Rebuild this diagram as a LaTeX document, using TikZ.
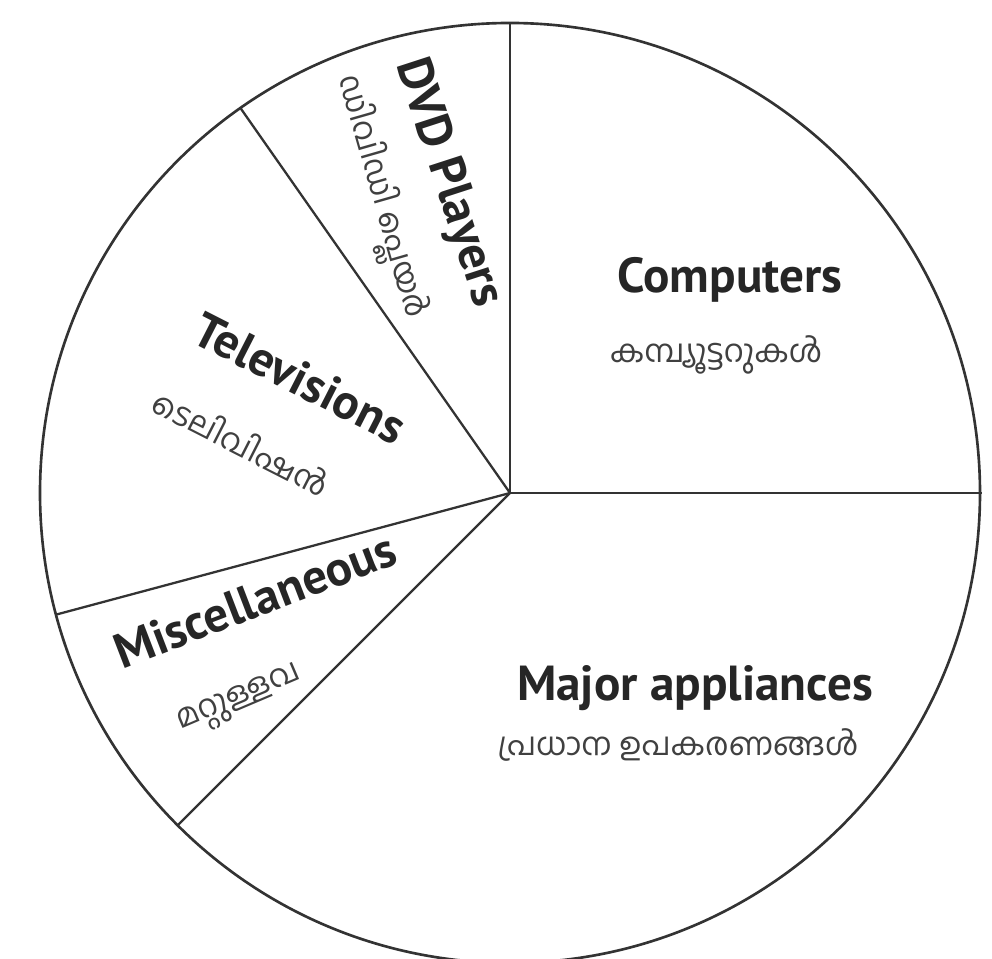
\documentclass[tikz,border=0pt]{standalone}
\usepackage{fontspec}
\setmainfont{PT Sans}
\newfontfamily\mlfont[Script=Malayalam]{Hind Kochi}
\usepackage{tikz}
\usetikzlibrary{positioning,calc}
\tikzset{
  rim/.style={draw,line width=1.5pt,black!80},
  cut/.style={draw,line width=1.3pt,black!80},
  eng/.style={font=\fontsize{28}{30}\selectfont\bfseries,text=black!85,inner sep=1pt},
  mal/.style={font=\mlfont\fontsize{18}{20}\selectfont,text=black!75,inner sep=1pt},
}
\begin{document}
\begin{tikzpicture}[x=0.02cm,y=0.02cm]
\useasboundingbox (0,0) rectangle (992,959);
\clip (0,0) rectangle (992,959);
\coordinate (c) at (510,466);
% rim points of the slices
\coordinate (r0) at ($(c)+(0:472)$);
\coordinate (r90) at ($(c)+(90:470)$);
\coordinate (r125) at ($(c)+(125:470)$);
\coordinate (r195) at ($(c)+(195:470)$);
\coordinate (r225) at ($(c)+(225:470)$);
\draw[rim] (c) circle (470);
\draw[cut] (c) -- (r0);
\draw[cut] (c) -- (r90);
\draw[cut] (c) -- (r125);
\draw[cut] (c) -- (r195);
\draw[cut] (c) -- (r225);

\node[eng] (comp) at (730,679) {Computers};
\node[mal] (compml) at (716,604) {കമ്പ്യൂട്ടറുകൾ};
\node[eng] (major) at (695,271) {Major appliances};
\node[mal] (majorml) at (678,214) {പ്രധാന ഉപകരണങ്ങൾ};
\node[eng,rotate=-27] (tv) at (300,581) {Televisions};
\node[mal,rotate=-27] (tvml) at (242,517) {ടെലിവിഷൻ};
\node[eng,rotate=-72] (dvd) at (448,776) {DVD Players};
\node[mal,rotate=-74] (dvdml) at (380,762) {ഡിവിഡി പ്ലെയർ};
\node[eng,rotate=21] (misc) at (255,359) {Miscellaneous};
\node[mal,rotate=23] (miscml) at (240,257) {മറ്റുള്ളവ};
\end{tikzpicture}
\end{document}
